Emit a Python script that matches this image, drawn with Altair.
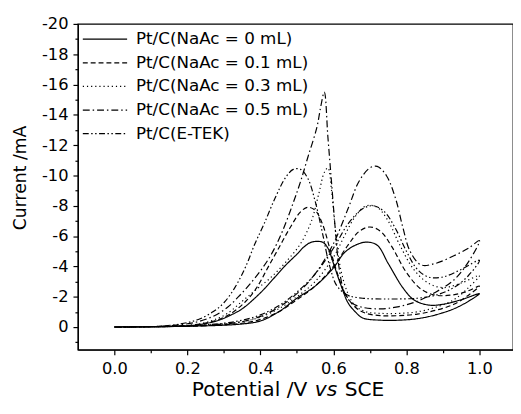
import altair as alt
import pandas as pd

SERIES = ["Pt/C(NaAc = 0 mL)", "Pt/C(NaAc = 0.1 mL)", "Pt/C(NaAc = 0.3 mL)",
          "Pt/C(NaAc = 0.5 mL)", "Pt/C(E-TEK)"]

# each curve: forward scan 0 -> 1.0 V, then reverse scan 1.0 -> 0 V
S0_V = [0.00, 0.10, 0.20, 0.30, 0.35, 0.40, 0.45, 0.50, 0.55, 0.60, 0.63, 0.66, 0.69, 0.72, 0.75, 0.79, 0.82, 0.86, 0.90, 0.95, 1.00,
        0.97, 0.93, 0.88, 0.83, 0.78, 0.73, 0.68, 0.66, 0.64, 0.62, 0.60, 0.585, 0.57, 0.54, 0.52, 0.50, 0.47, 0.44, 0.41, 0.38, 0.35, 0.32, 0.28, 0.22, 0.15, 0.05, 0.00]
S0_I = [0, -0.02, -0.05, -0.12, -0.2, -0.4, -1.0, -1.9, -2.7, -3.9, -4.9, -5.4, -5.6, -5.4, -4.2, -2.6, -1.8, -1.45, -1.5, -1.8, -2.2,
        -1.7, -1.2, -0.8, -0.55, -0.45, -0.45, -0.6, -1.0, -1.6, -2.8, -4.2, -5.2, -5.6, -5.6, -5.3, -4.8, -4.1, -3.3, -2.5, -1.8, -1.2, -0.8, -0.4, -0.12, -0.03, 0, 0]

S1_V = [0.00, 0.10, 0.20, 0.30, 0.35, 0.40, 0.45, 0.50, 0.55, 0.60, 0.64, 0.67, 0.70, 0.73, 0.76, 0.80, 0.84, 0.88, 0.92, 0.96, 1.00,
        0.97, 0.93, 0.88, 0.83, 0.78, 0.73, 0.69, 0.66, 0.63, 0.61, 0.59, 0.57, 0.55, 0.53, 0.51, 0.48, 0.45, 0.42, 0.39, 0.36, 0.32, 0.28, 0.22, 0.15, 0.05, 0.00]
S1_I = [0, -0.02, -0.05, -0.15, -0.25, -0.5, -1.0, -1.8, -2.7, -4.0, -5.4, -6.3, -6.6, -6.3, -5.3, -3.6, -2.5, -2.1, -2.1, -2.3, -2.7,
        -2.1, -1.5, -1.1, -0.85, -0.75, -0.75, -0.9, -1.3, -2.3, -3.6, -5.2, -6.8, -7.7, -7.9, -7.6, -6.5, -5.2, -3.9, -2.6, -1.7, -0.9, -0.45, -0.15, -0.05, 0, 0]

S2_V = [0.00, 0.10, 0.20, 0.30, 0.35, 0.40, 0.45, 0.50, 0.55, 0.60, 0.63, 0.66, 0.69, 0.72, 0.75, 0.78, 0.82, 0.86, 0.90, 0.95, 1.00,
        0.97, 0.93, 0.88, 0.83, 0.78, 0.73, 0.69, 0.66, 0.64, 0.62, 0.605, 0.595, 0.585, 0.575, 0.56, 0.54, 0.51, 0.47, 0.43, 0.39, 0.35, 0.31, 0.27, 0.22, 0.15, 0.05, 0.00]
S2_I = [0, -0.02, -0.06, -0.2, -0.35, -0.65, -1.2, -2.0, -3.0, -4.6, -6.0, -7.3, -8.0, -7.9, -7.0, -5.5, -3.8, -2.9, -2.6, -2.9, -3.4,
        -2.6, -1.8, -1.3, -1.0, -0.9, -0.9, -1.0, -1.4, -2.2, -3.8, -6.5, -9.0, -10.5, -10.2, -8.8, -7.0, -5.5, -4.3, -3.3, -2.5, -1.7, -0.9, -0.45, -0.15, -0.05, 0, 0]

S3_V = [0.00, 0.10, 0.20, 0.30, 0.35, 0.40, 0.45, 0.50, 0.55, 0.60, 0.64, 0.67, 0.70, 0.72, 0.745, 0.77, 0.79, 0.81, 0.84, 0.88, 0.93, 0.97, 1.00,
        0.97, 0.93, 0.88, 0.83, 0.78, 0.73, 0.68, 0.65, 0.63, 0.615, 0.605, 0.595, 0.585, 0.575, 0.565, 0.555, 0.53, 0.51, 0.49, 0.46, 0.43, 0.40, 0.37, 0.34, 0.31, 0.27, 0.22, 0.15, 0.05, 0.00]
S3_I = [0, -0.02, -0.06, -0.2, -0.35, -0.7, -1.3, -2.2, -3.5, -5.5, -7.8, -9.6, -10.5, -10.6, -10.0, -8.5, -6.6, -5.0, -4.1, -4.2, -4.7, -5.2, -5.7,
        -4.3, -3.1, -2.3, -1.7, -1.35, -1.2, -1.3, -1.6, -2.3, -4.0, -6.5, -9.5, -12.5, -15.5, -14.5, -13.2, -11.2, -9.6, -8.2, -6.3, -4.8, -3.7, -2.8, -2.0, -1.3, -0.7, -0.3, -0.08, 0, 0]

S4_V = [0.00, 0.10, 0.20, 0.30, 0.35, 0.40, 0.45, 0.50, 0.55, 0.60, 0.64, 0.68, 0.71, 0.74, 0.77, 0.80, 0.83, 0.86, 0.90, 0.95, 1.00,
        0.97, 0.93, 0.88, 0.83, 0.75, 0.68, 0.64, 0.61, 0.59, 0.57, 0.55, 0.53, 0.51, 0.49, 0.47, 0.44, 0.41, 0.385, 0.36, 0.33, 0.30, 0.27, 0.23, 0.18, 0.12, 0.05, 0.00]
S4_I = [0, -0.03, -0.08, -0.25, -0.45, -0.8, -1.4, -2.3, -3.5, -5.2, -6.8, -7.8, -8.0, -7.6, -6.5, -5.0, -3.8, -3.3, -3.3, -3.8, -4.4,
        -3.4, -2.6, -2.1, -1.9, -1.85, -1.9, -2.1, -2.7, -4.0, -6.2, -8.3, -9.8, -10.4, -10.4, -9.9, -8.5, -6.8, -5.5, -4.0, -2.6, -1.6, -1.0, -0.5, -0.2, -0.05, 0, 0]

X_MAJOR = [0.0, 0.2, 0.4, 0.6, 0.8, 1.0]
X_MINOR = [0.1, 0.3, 0.5, 0.7, 0.9]
Y_MAJOR = [-20, -18, -16, -14, -12, -10, -8, -6, -4, -2, 0]
Y_MINOR = [-19, -17, -15, -13, -11, -9, -7, -5, -3, -1, 1]

DASHES = [[1, 0], [5, 3], [1.2, 3], [7, 3, 1.5, 3], [6, 2.5, 1.5, 2.5, 1.5, 2.5]]

rows = []
for name, vs, cs in zip(SERIES, [S0_V, S1_V, S2_V, S3_V, S4_V], [S0_I, S1_I, S2_I, S3_I, S4_I]):
    for k, (v, c) in enumerate(zip(vs, cs)):
        rows.append({"series": name, "V": v, "I": c, "k": k})
df = pd.DataFrame(rows)

FONT = "DejaVu Sans"

xscale = alt.Scale(domain=[-0.1, 1.092], nice=False, zero=False)
yscale = alt.Scale(domain=[-20, 1.5], reverse=True, nice=False, zero=False)

lines = alt.Chart(df).mark_line(color="black", strokeWidth=1.2, interpolate="catmull-rom").encode(
    x=alt.X("V:Q", scale=xscale,
            axis=alt.Axis(values=X_MAJOR, labelExpr="format(datum.value, '.1f')", orient="bottom",
                          tickSize=5, labelPadding=6, title=None, grid=False,
                          labelFont=FONT, labelFontSize=16.5)),
    y=alt.Y("I:Q", scale=yscale,
            axis=alt.Axis(values=Y_MAJOR, labelExpr="'' + datum.value", orient="left",
                          tickSize=5, labelPadding=5, grid=False,
                          labelFont=FONT, labelFontSize=16.5,
                          title="Current /mA", titleFont=FONT, titleFontSize=17.5, titleFontWeight="normal",
                          titleX=-58, titleY=156, titleBaseline="middle", titleAlign="center")),
    strokeDash=alt.StrokeDash("series:N", sort=SERIES,
                              scale=alt.Scale(domain=SERIES, range=DASHES),
                              legend=alt.Legend(orient="none", legendX=19, legendY=7, title=None,
                                                symbolType="M-5,0L5,0", symbolSize=81,
                                                symbolStrokeColor="black", symbolStrokeWidth=1.2,
                                                labelOffset=23, rowPadding=6, padding=0,
                                                labelFont=FONT, labelFontSize=17, labelColor="black",
                                                labelLimit=400)),
    order=alt.Order("k:Q"),
    detail="series:N",
)

minor = alt.Chart(df).mark_point(opacity=0).encode(
    x=alt.X("V:Q", scale=xscale,
            axis=alt.Axis(values=X_MINOR, labels=False, domain=False, tickSize=3, title=None,
                          grid=False, orient="bottom")),
    y=alt.Y("I:Q", scale=yscale,
            axis=alt.Axis(values=Y_MINOR, labels=False, domain=False, tickSize=3, title=None,
                          grid=False, orient="left")),
)

TITLE_Y = 378
T_SIZE = 20.5
t1 = alt.Chart(pd.DataFrame({"t": ["Potential /V"]})).mark_text(
    font=FONT, fontSize=T_SIZE, align="right", baseline="alphabetic", color="black").encode(
    text="t:N", x=alt.value(233), y=alt.value(TITLE_Y))
t2 = alt.Chart(pd.DataFrame({"t": ["vs"]})).mark_text(
    font=FONT, fontSize=T_SIZE, fontStyle="italic", align="center", baseline="alphabetic", color="black").encode(
    text="t:N", x=alt.value(252), y=alt.value(TITLE_Y))
t3 = alt.Chart(pd.DataFrame({"t": ["SCE"]})).mark_text(
    font=FONT, fontSize=T_SIZE, align="left", baseline="alphabetic", color="black").encode(
    text="t:N", x=alt.value(271), y=alt.value(TITLE_Y))

chart = alt.layer(lines, minor, t1, t2, t3).resolve_axis(
    x="independent", y="independent"
).properties(
    width=442, height=331,
    padding={"left": 71, "top": 13, "right": 0, "bottom": 55},
    autosize=alt.AutoSizeParams(type="none"),
    background="white",
).configure_view(
    stroke="black", strokeWidth=1.3
).configure_axis(
    domainColor="black", tickColor="black", labelColor="black", titleColor="black",
    domainWidth=1.2, tickWidth=1.2,
)

chart.save("out.html", embed_options={"renderer": "svg", "actions": False})
